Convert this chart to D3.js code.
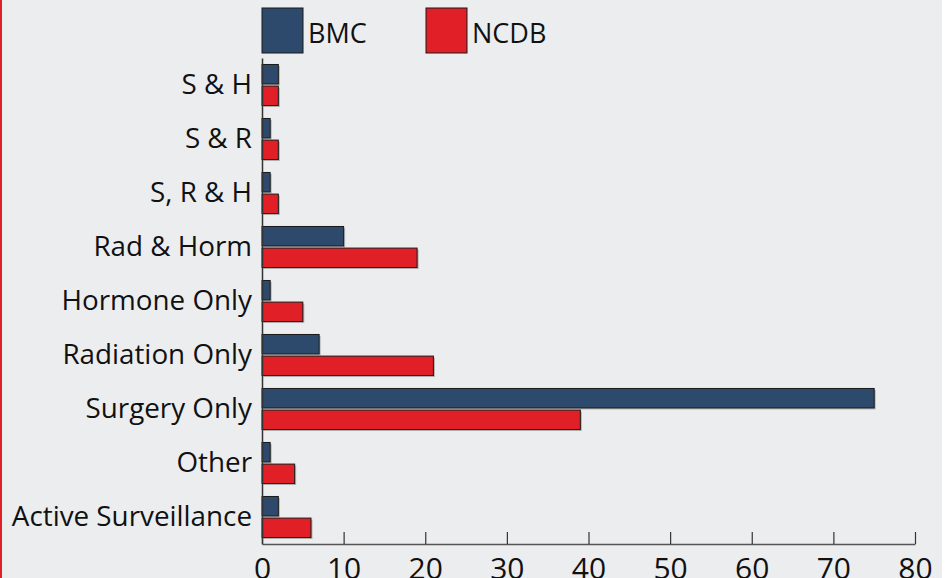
<!DOCTYPE html>
<html>
<head>
<meta charset="utf-8">
<script src="https://cdn.jsdelivr.net/npm/d3@7"></script>
<style>
  body { margin: 0; background: #fff; }
  svg { display: block; font-family: "Open Sans", sans-serif; }
</style>
</head>
<body>
<div id="chart"></div>
<script>
// data
var categories = ["S & H", "S & R", "S, R & H", "Rad & Horm", "Hormone Only",
  "Radiation Only", "Surgery Only", "Other", "Active Surveillance"];
var bmc = [2, 1, 1, 10, 1, 7, 75, 1, 2];
var ncdb = [2, 2, 2, 19, 5, 21, 39, 4, 6];
var seriesNames = ["BMC", "NCDB"];
var xTicks = [0, 10, 20, 30, 40, 50, 60, 70, 80];

var width = 950, height = 578;
var colors = { BMC: "#2d4a6c", NCDB: "#e01f27" };

var svg = d3.select("#chart").append("svg")
  .attr("width", width)
  .attr("height", height);

// background panel
svg.append("rect")
  .attr("x", 0).attr("y", 0)
  .attr("width", 942).attr("height", height)
  .attr("fill", "#ecedef");
svg.append("rect")
  .attr("x", 0).attr("y", 0)
  .attr("width", 2).attr("height", height)
  .attr("fill", "#e01f27");

var x = d3.scaleLinear().domain([0, 80]).range([262, 915]);
var y = d3.scaleBand().domain(categories).range([58, 544]).paddingInner(0.24).paddingOuter(0.12);
var ySub = d3.scaleBand().domain(seriesNames).range([0, y.bandwidth()]).paddingInner(0.1);

var rows = categories.map(function(c, i) {
  return { cat: c, values: [{ key: "BMC", v: bmc[i] }, { key: "NCDB", v: ncdb[i] }] };
});

var g = svg.selectAll(".row")
  .data(rows)
  .enter().append("g")
  .attr("transform", function(d) { return "translate(0," + y(d.cat) + ")"; });

// shadows
g.selectAll(".shadow")
  .data(function(d) { return d.values; })
  .enter().append("rect")
  .attr("x", x(0) + 1.5)
  .attr("y", function(d) { return ySub(d.key) + 1.5; })
  .attr("width", function(d) { return x(d.v) - x(0); })
  .attr("height", ySub.bandwidth())
  .attr("fill", "#8a8a8a")
  .attr("opacity", 0.6);

g.selectAll(".bar")
  .data(function(d) { return d.values; })
  .enter().append("rect")
  .attr("x", x(0))
  .attr("y", function(d) { return ySub(d.key); })
  .attr("width", function(d) { return x(d.v) - x(0); })
  .attr("height", ySub.bandwidth())
  .attr("fill", function(d) { return colors[d.key]; })
  .attr("stroke", "#1a1a1a")
  .attr("stroke-width", 1);

// y axis
var yAxis = svg.append("g")
  .attr("transform", "translate(" + x(0) + ",0)")
  .call(d3.axisLeft(y).tickSize(0).tickPadding(10));
yAxis.select(".domain").attr("stroke", "#333").attr("stroke-width", 1.5);
yAxis.selectAll("text")
  .attr("font-size", 27.8)
  .attr("fill", "#111")
  .attr("font-family", "Open Sans, sans-serif");

// x axis
var xAxis = svg.append("g")
  .attr("transform", "translate(0,544)")
  .call(d3.axisTop(x).tickValues(xTicks).tickSize(12).tickSizeOuter(0).tickFormat(d3.format("d")));
xAxis.select(".domain").attr("stroke", "#555").attr("stroke-width", 1.5);
xAxis.selectAll("line").attr("stroke", "#333").attr("stroke-width", 1.2);
xAxis.selectAll("text")
  .attr("y", 35)
  .attr("dy", 0)
  .attr("font-size", 30)
  .attr("fill", "#111")
  .attr("font-family", "Open Sans, sans-serif");

// legend
var legendX = [262, 426];
var legend = svg.selectAll(".legend")
  .data(seriesNames)
  .enter().append("g")
  .attr("transform", function(d, i) { return "translate(" + legendX[i] + ",8)"; });
legend.append("rect")
  .attr("width", 41).attr("height", 45)
  .attr("fill", function(d) { return colors[d]; })
  .attr("stroke", "#1a1a1a").attr("stroke-width", 1);
legend.append("text")
  .attr("x", 46).attr("y", 35)
  .attr("font-size", 27)
  .attr("fill", "#111")
  .text(function(d) { return d; });
</script>
</body>
</html>
